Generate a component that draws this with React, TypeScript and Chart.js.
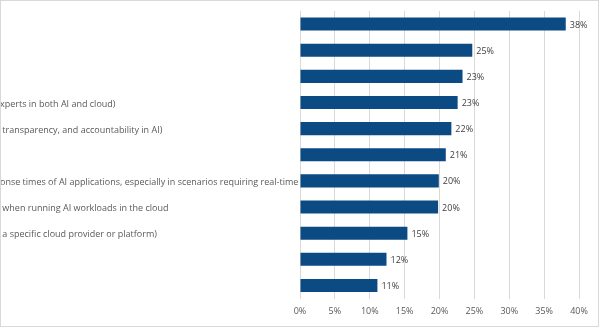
import React, { useEffect, useRef } from "react";
import { Chart, registerables } from "chart.js";

Chart.register(...registerables);

const categories: string[] = [
  "",
  "",
  "",
  "xperts in both AI and cloud)",
  " transparency, and accountability in AI)",
  "",
  "onse times of AI applications, especially in scenarios requiring real-time",
  " when running AI workloads in the cloud",
  " a specific cloud provider or platform)",
  "",
  "",
];

const values: number[] = [38.1, 24.7, 23.3, 22.6, 21.7, 20.9, 19.9, 19.8, 15.4, 12.4, 11.1];

const xTicks: number[] = [0, 5, 10, 15, 20, 25, 30, 35, 40];

const BAR = "#0b4a82";
const TEXT = "#595959";
const GRID = "#d9d9d9";
const FONT = "'Open Sans', 'DejaVu Sans', sans-serif";

const dataLabels = {
  id: "dataLabels",
  afterDatasetsDraw(chart: any) {
    const ctx = chart.ctx;
    const meta = chart.getDatasetMeta(0);
    ctx.save();
    ctx.font = `9px ${FONT}`;
    ctx.fillStyle = "#404040";
    ctx.textAlign = "left";
    ctx.textBaseline = "middle";
    meta.data.forEach((bar: any, i: number) => {
      ctx.fillText(`${Math.round(values[i])}%`, bar.x + 4, bar.y + 1);
    });
    ctx.restore();
  },
};

const frame = {
  id: "frame",
  afterDraw(chart: any) {
    const ctx = chart.ctx;
    ctx.save();
    ctx.strokeStyle = GRID;
    ctx.lineWidth = 1;
    ctx.strokeRect(0.5, 0.5, 598, 326);
    ctx.restore();
  },
};

export default function App() {
  const ref = useRef<HTMLCanvasElement>(null);
  useEffect(() => {
    if (!ref.current) return;
    const chart = new Chart(ref.current, {
      type: "bar",
      data: {
        labels: categories,
        datasets: [
          {
            data: values,
            backgroundColor: BAR,
            borderWidth: 0,
            barPercentage: 0.5,
            categoryPercentage: 1,
          },
        ],
      },
      options: {
        indexAxis: "y",
        animation: false,
        responsive: false,
        layout: { padding: { top: 11, right: 21, bottom: 0, left: 0 } },
        plugins: { legend: { display: false }, tooltip: { enabled: false } },
        scales: {
          x: {
            min: 0,
            max: 40,
            afterBuildTicks: (axis: any) => {
              axis.ticks = xTicks.map((v) => ({ value: v }));
            },
            afterFit: (axis: any) => {
              axis.height = 29.5;
            },
            grid: { color: GRID, drawTicks: false, lineWidth: 1 },
            border: { display: false },
            ticks: {
              padding: 8,
              color: TEXT,
              font: { family: FONT, size: 9 },
              callback: (v: any) => `${v}%`,
            },
          },
          y: {
            afterFit: (axis: any) => {
              axis.width = 300;
            },
            grid: { display: false, drawTicks: false },
            border: { display: false },
            ticks: {
              crossAlign: "far",
              labelOffset: 1.5,
              color: TEXT,
              font: { family: FONT, size: 9 },
              autoSkip: false,
            },
          },
        },
      },
      plugins: [dataLabels, frame],
    });
    return () => chart.destroy();
  }, []);
  return (
    <div style={{ position: "fixed", left: 0, top: 0, width: 600, height: 328, background: "#fff" }}>
      <canvas ref={ref} width={600} height={328} style={{ display: "block" }} />
    </div>
  );
}
